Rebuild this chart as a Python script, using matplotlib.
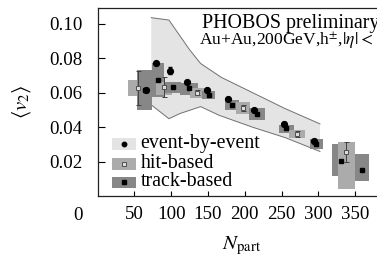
import numpy as np
import matplotlib
matplotlib.use('Agg')
import matplotlib.pyplot as plt

plt.rcParams['font.family'] = 'serif'
plt.rcParams['font.serif'] = ['Liberation Serif', 'DejaVu Serif']
plt.rcParams['mathtext.fontset'] = 'stix'

# event-by-event points and systematic band
ebe_x = [66, 80, 99, 121, 148, 177, 212, 253, 294]
ebe_v2 = [0.0616, 0.0771, 0.0727, 0.0661, 0.0616, 0.0566, 0.0502, 0.0420, 0.0320]
ebe_err = [0.001, 0.001, 0.002, 0.001, 0.001, 0.001, 0.001, 0.001, 0.001]

band_up_x = [73, 97, 112, 125, 140, 168, 254, 302]
band_up_v2 = [0.1036, 0.1022, 0.093, 0.085, 0.077, 0.069, 0.051, 0.042]
band_lo_x = [73, 97, 112, 140, 165, 211, 255, 302]
band_lo_v2 = [0.053, 0.045, 0.048, 0.052, 0.047, 0.040, 0.034, 0.026]

# hit-based
hit_x = [55, 90, 135.5, 197.5, 271, 338]
hit_v2 = [0.0628, 0.0632, 0.0600, 0.0512, 0.0361, 0.0255]
hit_err = [0.0096, 0.0058, 0.0015, 0.0015, 0.0015, 0.0058]
hit_box_w = [13.5, 11, 10, 10, 10.5, 12]
hit_sys_lo = [0.058, 0.0587, 0.0572, 0.048, 0.0336, 0.0041]
hit_sys_hi = [0.0674, 0.0664, 0.0630, 0.0547, 0.0385, 0.0313]

# track-based
track_x = [64, 82, 102, 124, 151, 182.5, 216.5, 256.5, 297, 330, 359]
track_v2 = [0.0615, 0.0674, 0.0635, 0.0626, 0.0587, 0.0529, 0.0477, 0.0394, 0.0303, 0.0206, 0.0152]
track_box_w = [10, 8, 12, 12, 8.5, 9, 11, 10, 9, 11, 10]
track_sys_lo = [0.050, 0.0577, 0.0597, 0.0587, 0.0564, 0.0500, 0.0442, 0.0365, 0.0272, 0.0119, 0.0089]
track_sys_hi = [0.0732, 0.0771, 0.0664, 0.0655, 0.0610, 0.0558, 0.0514, 0.0413, 0.0330, 0.0301, 0.0243]

c_band = '#e4e4e4'
c_hit = '#ababab'
c_trk = '#878787'

fig = plt.figure(figsize=(3.77, 2.58), dpi=100)
ax = fig.add_axes([97.5/377, (258-196.3)/258, 288/377, 188.3/258])

# band
poly_x = np.concatenate([band_up_x, band_lo_x[::-1]])
poly_y = np.concatenate([band_up_v2, band_lo_v2[::-1]])
ax.fill(poly_x, poly_y, color=c_band, lw=0, zorder=1)
ax.plot(band_up_x, band_up_v2, color='#707070', lw=0.7, zorder=1.5)
ax.plot(band_lo_x, band_lo_v2, color='#707070', lw=0.7, zorder=1.5)

# systematic boxes, later x drawn on top
hlo, hhi = np.array(hit_sys_lo), np.array(hit_sys_hi)
tlo, thi = np.array(track_sys_lo), np.array(track_sys_hi)
bh = ax.bar(hit_x, hhi - hlo, bottom=hlo, width=2*np.array(hit_box_w), color=c_hit, lw=0)
bt = ax.bar(track_x, thi - tlo, bottom=tlo, width=2*np.array(track_box_w), color=c_trk, lw=0)
all_bars = list(bh) + list(bt)
xs = np.concatenate([hit_x, track_x])
for rank, idx in enumerate(np.argsort(xs)):
    all_bars[idx].set_zorder(2 + rank*0.01)

# markers
ax.errorbar(hit_x, hit_v2, yerr=hit_err, fmt='s', ms=3.3, mfc='#dcdcdc', mec='#505050', mew=0.7,
            ecolor='#404040', elinewidth=0.7, capsize=1.8, capthick=0.7, zorder=6)
ax.plot(track_x, track_v2, 's', ms=3.0, color='black', zorder=7)
ax.errorbar(ebe_x, ebe_v2, yerr=ebe_err, fmt='o', ms=4.2, color='black',
            elinewidth=0.8, capsize=1.5, zorder=8)

ax.set_xlim(0, 391)
ax.set_ylim(0, 0.1092)
ax.set_xticks([50, 100, 150, 200, 250, 300, 350])
ax.set_yticks([0.02, 0.04, 0.06, 0.08, 0.10])
ax.set_yticklabels(['0.02', '0.04', '0.06', '0.08', '0.10'])
ax.tick_params(axis='y', direction='in', length=5, width=0.8, pad=11, labelsize=13.6)
ax.tick_params(axis='x', direction='in', length=3.8, width=0.8, pad=7, labelsize=13.6)
for s in ax.spines.values():
    s.set_linewidth(0.9)
    s.set_color('#222222')

ax.set_xlabel(r'$N_{\rm part}$', fontsize=15)
ax.xaxis.set_label_coords(0.5, -0.205)
ax.set_ylabel(r'$\langle v_2 \rangle$', fontsize=15)
ax.yaxis.set_label_coords(-0.224, 0.5)

fig.text(82.7/377, 1 - 216/258, '0', ha='right', va='center', fontsize=13.6)

# legend drawn by hand
leg_labels = ['event-by-event', 'hit-based', 'track-based']
leg_colors = [c_band, c_hit, c_trk]
leg_rows = [0.277, 0.1726, 0.0733]
for lab, col, yc in zip(leg_labels, leg_colors, leg_rows):
    ax.add_patch(plt.Rectangle((0.0493, yc - 0.031), 0.0844, 0.062, transform=ax.transAxes,
                               color=col, lw=0, zorder=9))
    ax.text(0.150, yc - 0.021, lab, transform=ax.transAxes, fontsize=14.4,
            va='baseline', ha='left', zorder=10)
ax.plot([0.092], [leg_rows[0]], 'o', ms=3.2, color='black', transform=ax.transAxes, zorder=10)
ax.plot([0.092], [leg_rows[1]], 's', ms=3.0, mfc='#dcdcdc', mec='#505050', mew=0.7,
        transform=ax.transAxes, zorder=10)
ax.plot([0.092], [leg_rows[2]], 's', ms=3.0, color='black', transform=ax.transAxes, zorder=10)

fig.text(201.7/377, 1 - 28.3/258, 'PHOBOS preliminary', fontsize=14.4, va='baseline')
fig.text(199.3/377, 1 - 45/258, r'Au+Au,200GeV,h$^{\pm}$,$|\eta| < 1$', fontsize=12.6, va='baseline')

fig.savefig('out.png', dpi=100)
